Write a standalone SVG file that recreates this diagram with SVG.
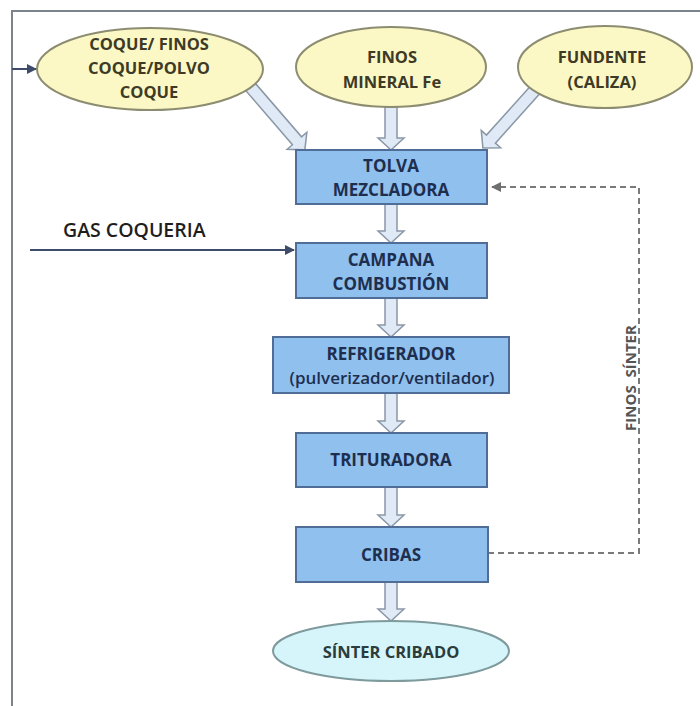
<svg xmlns="http://www.w3.org/2000/svg" width="700" height="706" viewBox="0 0 700 706">
<defs>
<style>
.frame{stroke:#7d838c;stroke-width:2;fill:none}
.ell{fill:#fbf8c6;stroke:#8c8c70;stroke-width:2}
.box{fill:#8fc0ee;stroke:#4f6d96;stroke-width:2}
.fin{fill:#d6f5fb;stroke:#7f9a9c;stroke-width:2}
.blk{fill:#dfeaf6;stroke:#8a97a6;stroke-width:1.5}
.t{font-family:"Open Sans","Liberation Sans",sans-serif;font-weight:700;text-anchor:middle}
.te{font-size:16.5px;fill:#3d3a25}
.tb{font-size:17px;fill:#1e2e4e}
.ts{font-size:17px;fill:#1e2e4e;font-weight:600}
.line{stroke:#3e4c6a;stroke-width:2;fill:none}
.dash{stroke:#7a7a7a;stroke-width:2;fill:none;stroke-dasharray:6 4}
</style>
<marker id="ah" viewBox="0 0 10 10" refX="9" refY="5" markerWidth="5" markerHeight="5" orient="auto" markerUnits="strokeWidth">
<path d="M0,0 L10,5 L0,10 Z" fill="#3e4c6a"/>
</marker>
<marker id="ahg" viewBox="0 0 10 10" refX="9" refY="5" markerWidth="5" markerHeight="5" orient="auto" markerUnits="strokeWidth">
<path d="M0,0 L10,5 L0,10 Z" fill="#6f6f6f"/>
</marker>
</defs>
<rect width="700" height="706" fill="#ffffff"/>
<path class="frame" d="M12,706 V11 H700"/>

<g id="connectors">
<path class="line" d="M12,69 H36" marker-end="url(#ah)"/>
<path class="line" d="M30,250 H294" marker-end="url(#ah)"/>
<path class="dash" d="M488,553 H639 V187 H492" marker-end="url(#ahg)"/>
<path class="blk" transform="translate(248,84) rotate(-40.8)" d="M-6,0 L6,0 L6,75 L13,75 L0,87 L-13,75 L-6,75 Z"/>
<path class="blk" transform="translate(391,107)" d="M-6,0 L6,0 L6,31 L13,31 L0,43 L-13,31 L-6,31 Z"/>
<path class="blk" transform="translate(535,90) rotate(41.9)" d="M-6,0 L6,0 L6,66 L13,66 L0,78 L-13,66 L-6,66 Z"/>
<path class="blk" transform="translate(391,204)" d="M-6,0 L6,0 L6,27 L13,27 L0,39 L-13,27 L-6,27 Z"/>
<path class="blk" transform="translate(391,298)" d="M-6,0 L6,0 L6,27 L13,27 L0,39 L-13,27 L-6,27 Z"/>
<path class="blk" transform="translate(391,393)" d="M-6,0 L6,0 L6,28 L13,28 L0,40 L-13,28 L-6,28 Z"/>
<path class="blk" transform="translate(391,487)" d="M-6,0 L6,0 L6,28 L13,28 L0,40 L-13,28 L-6,28 Z"/>
<path class="blk" transform="translate(391,582)" d="M-6,0 L6,0 L6,27 L13,27 L0,39 L-13,27 L-6,27 Z"/>
</g>

<g id="coque">
<ellipse class="ell" cx="150" cy="69" rx="113" ry="41"/>
<text class="t te" x="149" y="50">COQUE/ FINOS</text>
<text class="t te" x="149" y="74">COQUE/POLVO</text>
<text class="t te" x="149" y="98">COQUE</text>
</g>
<g id="finos-mineral">
<ellipse class="ell" cx="391" cy="67" rx="95" ry="40"/>
<text class="t te" x="392" y="63">FINOS</text>
<text class="t te" x="392" y="88">MINERAL Fe</text>
</g>
<g id="fundente">
<ellipse class="ell" cx="605" cy="67" rx="87" ry="41"/>
<text class="t te" x="602" y="63">FUNDENTE</text>
<text class="t te" x="602" y="88">(CALIZA)</text>
</g>
<g id="gas">
<text x="63" y="237" font-family="'Open Sans','Liberation Sans',sans-serif" font-size="19.5" font-weight="600" fill="#1e1e1e">GAS COQUERIA</text>
</g>
<g id="tolva">
<rect class="box" x="296" y="150" width="191" height="54"/>
<text class="t tb" x="391" y="172">TOLVA</text>
<text class="t tb" x="391" y="196">MEZCLADORA</text>
</g>
<g id="campana">
<rect class="box" x="296" y="243" width="191" height="55"/>
<text class="t tb" x="391" y="266">CAMPANA</text>
<text class="t tb" x="391" y="290">COMBUSTIÓN</text>
</g>
<g id="refrigerador">
<rect class="box" x="273" y="337" width="236" height="56"/>
<text class="t tb" x="391" y="360">REFRIGERADOR</text>
<text class="t ts" x="392" y="384">(pulverizador/ventilador)</text>
</g>
<g id="trituradora">
<rect class="box" x="296" y="433" width="191" height="54"/>
<text class="t tb" x="391" y="466">TRITURADORA</text>
</g>
<g id="cribas">
<rect class="box" x="296" y="527" width="192" height="55"/>
<text class="t tb" x="391" y="561">CRIBAS</text>
</g>
<g id="sinter">
<ellipse class="fin" cx="391" cy="651" rx="118" ry="30"/>
<text class="t te" x="391" y="658" style="fill:#2c3c3c">SÍNTER CRIBADO</text>
</g>
<g id="finos-sinter-label">
<text class="t" x="0" y="0" transform="translate(636,378) rotate(-90)" font-size="15" fill="#555555" xml:space="preserve" style="white-space:pre">FINOS  SÍNTER</text>
</g>
</svg>
